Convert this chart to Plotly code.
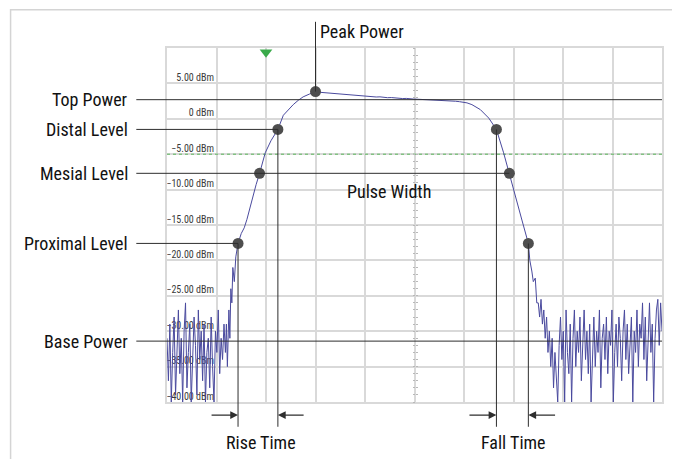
import numpy as np
import plotly.graph_objects as go

# ---------------- data (time in divisions, power in dBm) ----------------
left_noise_dbm = [-31, -37, -29, -40, -33, -28, -39, -34, -27, -36, -31, -40, -30, -26,
                  -38, -33, -29, -40, -35, -28, -32, -39, -27, -34, -30, -37, -29, -40,
                  -33, -31, -38, -28, -35, -40, -30, -33, -27, -36, -31, -34, -29, -33]
rise_time = [1.20, 1.22, 1.25, 1.27, 1.29, 1.31, 1.33, 1.36, 1.39, 1.435, 1.50, 1.56,
             1.615, 1.70, 1.80, 1.87, 1.985, 2.10, 2.24, 2.35, 2.45, 2.55, 2.65, 2.75,
             2.88, 3.00]
rise_dbm = [-29, -35, -27, -31, -24, -26, -21, -23, -19.5, -17.6, -16.2, -15.4,
            -14.2, -11.8, -9.3, -7.7, -4.8, -3.1, -1.5, 0.5, 1.3, 2.0, 2.6, 3.1,
            3.5, 3.85]
flat_dbm = [3.75, 3.7, 3.72, 3.6, 3.63, 3.5, 3.52, 3.42, 3.36, 3.4, 3.28, 3.3, 3.22,
            3.18, 3.16, 3.08, 3.1, 3.02, 2.98, 3.0, 2.92, 2.9, 2.86, 2.88, 2.8, 2.78,
            2.76, 2.74, 2.7, 2.7, 2.66, 2.64, 2.6, 2.58, 2.56, 2.52, 2.48, 2.42, 2.35,
            2.25]
fall_time = [6.16, 6.33, 6.50, 6.655, 6.80, 6.917, 7.03, 7.17, 7.30, 7.33, 7.37,
             7.40, 7.44, 7.47]
fall_dbm = [2.0, 1.3, 0.1, -1.5, -4.8, -7.7, -10.5, -14.3, -17.6, -20.0, -21.5,
            -23.0, -22.5, -26.0]
right_noise_dbm = [-26, -28, -25.5, -29, -27, -31, -28, -33, -30, -35, -31, -38, -33, -36,
                   -40, -32, -28, -34, -30, -40, -27, -33, -36, -29, -40, -31, -27, -35,
                   -30, -33, -28, -37, -31, -27, -34, -30, -36, -29, -40, -32, -28, -35,
                   -30, -33, -27, -38, -31, -29, -34, -28, -36, -30, -32, -27, -40, -33,
                   -29, -35, -28, -31, -37, -30, -27, -34, -29, -36, -32, -28, -40, -30,
                   -33, -27, -35, -29, -31, -26, -34, -28, -37, -30, -26, -33, -29, -40,
                   -31, -27, -25.5, -32, -26, -30]

level_names = ["Top Power", "Distal Level", "Mesial Level", "Proximal Level", "Base Power"]
level_dbm = [2.7, -1.5, -7.7, -17.6, -31.4]
level_end_time = [10.0, 2.24, 6.917, 1.435, 10.0]

point_time = [1.435, 1.87, 2.24, 3.00, 6.655, 6.917, 7.30]
point_dbm = [-17.6, -7.7, -1.5, 3.85, -1.5, -7.7, -17.6]

drop_time = [1.435, 2.24, 6.655, 7.30]          # vertical lines down to the arrows
drop_dbm = [-17.6, -1.5, -1.5, -17.6]

tick_vals = [5, 0, -5, -10, -15, -20, -25, -30, -35, -40]
tick_text = ["5.00 dBm", "0 dBm", "−5.00 dBm", "−10.00 dBm", "−15.00 dBm", "−20.00 dBm",
             "−25.00 dBm", "−30.00 dBm", "−35.00 dBm", "−40.00 dBm"]

trigger_level = -5.0

# ---------------- axes / layout helpers ----------------
X_RANGE = [0.0, 10.0]
Y_RANGE = [-40.0, 10.0]
W, H = 672, 451                   # page body adds an 8 px margin
M = dict(l=159, r=18, t=40, b=57)
PLOT_W = W - M["l"] - M["r"]


def xp(t):
    return (t - X_RANGE[0]) / (X_RANGE[1] - X_RANGE[0])


def yp(v):
    return (v - Y_RANGE[0]) / (Y_RANGE[1] - Y_RANGE[0])


left_noise_t = np.linspace(0.0, 1.18, len(left_noise_dbm))
flat_t = np.linspace(3.08, 6.06, len(flat_dbm))
right_noise_t = np.linspace(7.50, 10.0, len(right_noise_dbm))
wave_t = np.concatenate([left_noise_t, rise_time, flat_t, fall_time, right_noise_t])
wave_y = np.concatenate([left_noise_dbm, rise_dbm, flat_dbm, fall_dbm, right_noise_dbm])

FONT = "Roboto Condensed, DejaVu Sans Condensed, sans-serif"
LINE = "#2e2e2e"
GRID = "#d9d9d9"
GREEN = "#3aaa4a"
TXT = "#111111"
FS = 18

label_x = -0.75
line_start = -0.62
bottom_y = -43.5
arrow_y = -41.85
peak_top = 13.7

fig = go.Figure()

# y tick labels, drawn as text beneath the waveform
fig.add_trace(go.Scatter(x=[0.95] * len(tick_vals), y=tick_vals, mode="text",
                         text=tick_text, textposition="top left",
                         textfont=dict(family=FONT, size=10, color="#3a3a3a"),
                         cliponaxis=False, hoverinfo="skip", showlegend=False))

# trigger level
fig.add_trace(go.Scatter(x=X_RANGE, y=[trigger_level] * 2, mode="lines",
                         line=dict(color="#5cb85c", width=1, dash="dot"),
                         hoverinfo="skip", showlegend=False))
fig.add_trace(go.Scatter(x=[-0.09], y=[trigger_level], mode="markers+text",
                         marker=dict(symbol="square", size=9, color=GREEN),
                         text=["T"], textposition="middle center",
                         textfont=dict(size=6, color="white", family="DejaVu Sans"),
                         cliponaxis=False, hoverinfo="skip", showlegend=False))
fig.add_trace(go.Scatter(x=[2.0], y=[9.4], mode="markers",
                         marker=dict(symbol="triangle-down", size=11, color=GREEN),
                         cliponaxis=False, hoverinfo="skip", showlegend=False))

# waveform
fig.add_trace(go.Scatter(x=wave_t, y=wave_y, mode="lines",
                         line=dict(color="#4a4a9e", width=1),
                         hoverinfo="skip", showlegend=False))

# level lines + labels
for name, lv, xe in zip(level_names, level_dbm, level_end_time):
    fig.add_shape(type="line", xref="paper", yref="paper", x0=xp(line_start), x1=xp(xe),
                  y0=yp(lv), y1=yp(lv), line=dict(color=LINE, width=1), layer="above")
    fig.add_annotation(x=xp(label_x), y=lv, xref="paper", yref="y", text=name,
                       showarrow=False, xanchor="right", yanchor="middle",
                       font=dict(family=FONT, size=FS, color=TXT))

# vertical drop lines
for t, v in zip(drop_time, drop_dbm):
    fig.add_shape(type="line", xref="paper", yref="paper", x0=xp(t), x1=xp(t),
                  y0=yp(v), y1=yp(bottom_y), line=dict(color=LINE, width=1), layer="above")
# peak line
fig.add_shape(type="line", xref="paper", yref="paper", x0=xp(point_time[3]),
              x1=xp(point_time[3]), y0=yp(point_dbm[3]), y1=yp(peak_top),
              line=dict(color=LINE, width=1), layer="above")

# key points
fig.add_trace(go.Scatter(x=point_time, y=point_dbm, mode="markers",
                         marker=dict(size=11, color="#4e4e4e"), cliponaxis=False,
                         hoverinfo="skip", showlegend=False))

# arrows
px_per_div = PLOT_W / (X_RANGE[1] - X_RANGE[0])
arrow_pairs = [(0.87, 1.435), (2.79, 2.24), (6.08, 6.655), (7.87, 7.30)]
for tail, tip in arrow_pairs:
    fig.add_annotation(x=tip, y=yp(arrow_y), xref="x", yref="paper",
                       ax=(tail - tip) * px_per_div, ay=0, axref="pixel", ayref="pixel",
                       text="", showarrow=True, arrowhead=2, arrowsize=1.3,
                       arrowwidth=1.2, arrowcolor=LINE, standoff=0, startstandoff=0)

fig.add_annotation(x=3.0, y=yp(12.35), xref="x", yref="paper", text="Peak Power",
                   showarrow=False, xanchor="left", yanchor="middle", xshift=2,
                   font=dict(family=FONT, size=FS, color=TXT))
fig.add_annotation(x=4.49, y=-10.2, text="Pulse Width", showarrow=False,
                   xanchor="center", yanchor="middle",
                   font=dict(family=FONT, size=FS, color=TXT))
fig.add_annotation(x=1.89, y=yp(-45.75), xref="x", yref="paper", text="Rise Time",
                   showarrow=False, xanchor="center", yanchor="middle",
                   font=dict(family=FONT, size=FS, color=TXT))
fig.add_annotation(x=7.0, y=yp(-45.75), xref="x", yref="paper", text="Fall Time",
                   showarrow=False, xanchor="center", yanchor="middle",
                   font=dict(family=FONT, size=FS, color=TXT))

# outer frame
fig.add_shape(type="rect", xref="paper", yref="paper", x0=-0.316, x1=1.034,
              y0=-0.3, y1=1.108, line=dict(color="#d4d4d4", width=1.5), layer="below")

fig.update_layout(
    width=W, height=H, margin=M,
    paper_bgcolor="white", plot_bgcolor="white",
    font=dict(family=FONT),
    xaxis=dict(range=X_RANGE, dtick=1, showgrid=True, gridcolor=GRID, gridwidth=1.5,
               zeroline=False, showticklabels=False, ticks="", showline=True,
               linecolor=GRID, linewidth=1.5, mirror=True, fixedrange=True),
    yaxis=dict(range=Y_RANGE, dtick=5, showgrid=True, gridcolor=GRID, gridwidth=1.5,
               zeroline=False, showticklabels=False, ticks="", showline=True,
               linecolor=GRID, linewidth=1.5, mirror=True, fixedrange=True),
    yaxis2=dict(range=Y_RANGE, overlaying="y", anchor="free", position=0.5,
                dtick=1, ticks="outside", ticklen=2, tickcolor="#b8b8b8", tickwidth=1,
                showticklabels=False, showgrid=False, zeroline=False, showline=False),
    yaxis3=dict(range=Y_RANGE, overlaying="y", anchor="free", position=0.5,
                dtick=1, ticks="inside", ticklen=2, tickcolor="#b8b8b8", tickwidth=1,
                showticklabels=False, showgrid=False, zeroline=False, showline=False),
)
fig.add_trace(go.Scatter(x=[5], y=[-15], yaxis="y2", mode="markers",
                         marker=dict(opacity=0), hoverinfo="skip", showlegend=False))
fig.add_trace(go.Scatter(x=[5], y=[-15], yaxis="y3", mode="markers",
                         marker=dict(opacity=0), hoverinfo="skip", showlegend=False))

fig.write_html("out.html")
